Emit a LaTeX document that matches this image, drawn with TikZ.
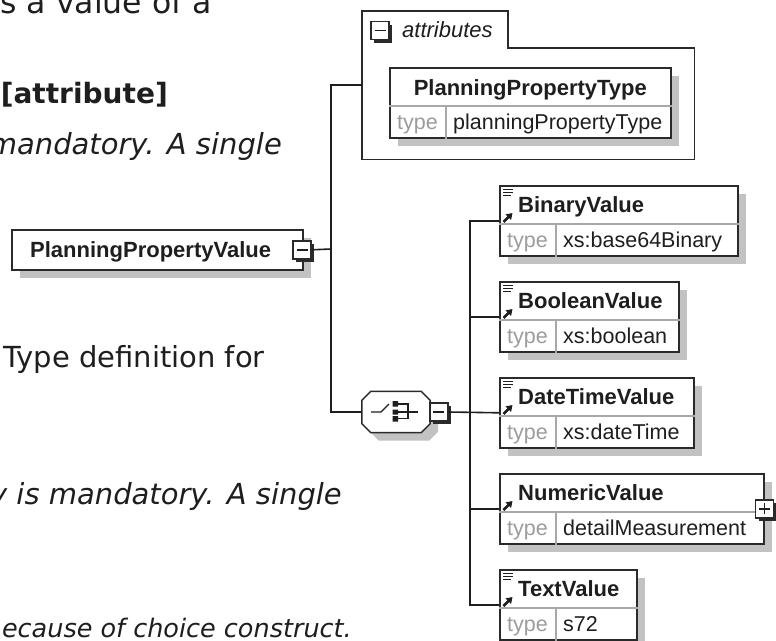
\documentclass[tikz,border=0pt]{standalone}
\usepackage{fontspec}
\setmainfont{Liberation Sans}
\newfontfamily\pagefont{DejaVu Sans}
\usetikzlibrary{positioning,arrows.meta,calc,shadows}
\definecolor{ink}{HTML}{1E1E1E}
\definecolor{frame}{HTML}{2A2A2A}
\definecolor{rule}{HTML}{A8A8A8}
\definecolor{shadowgray}{HTML}{C2C2C2}
\definecolor{muted}{HTML}{9C9C9C}
\tikzset{
  conn/.style={draw=ink, line width=1.6pt},
  frameline/.style={draw=frame, line width=1.5pt},
  rulel/.style={draw=rule, line width=1.3pt},
  boxshadow/.style={drop shadow={shadow xshift=8pt, shadow yshift=-8pt, fill=shadowgray, opacity=1}},
  elem/.style={draw=frame, line width=1.6pt, fill=white, anchor=north west,
    minimum height=70pt, inner sep=0pt, boxshadow},
  namefont/.style={font=\bfseries\fontsize{22}{22}\selectfont, text=ink, anchor=base west, inner sep=0pt},
  grplbl/.style={font=\itshape\fontsize{22}{22}\selectfont, text=ink, anchor=base west, inner sep=0pt},
  typelbl/.style={font=\fontsize{21.5}{21.5}\selectfont, text=muted, anchor=base west, inner sep=0pt},
  typeval/.style={font=\fontsize{21.5}{21.5}\selectfont, text=ink, anchor=base west, inner sep=0pt},
  pagetxt/.style={text=ink, anchor=base east, inner sep=0pt},
  btn/.style={draw=frame, fill=white, line width=1.5pt, minimum size=18pt, inner sep=0pt,
    drop shadow={shadow xshift=3pt, shadow yshift=-3pt, fill=frame, opacity=1}},
  minusbtn/.style={btn, path picture={\draw[line width=1.5pt, ink]
    ([xshift=3.5pt]path picture bounding box.west) -- ([xshift=-3.5pt]path picture bounding box.east);}},
  plusbtn/.style={btn, path picture={\draw[line width=1.5pt, ink]
    ([xshift=3.5pt]path picture bounding box.west) -- ([xshift=-3.5pt]path picture bounding box.east)
    ([yshift=3.5pt]path picture bounding box.south) -- ([yshift=-3.5pt]path picture bounding box.north);}},
  choicebox/.style={draw=frame, line width=1.5pt, fill=white, boxshadow},
  docline/.style={draw=ink, line width=1.3pt},
  refarrow/.style={draw=ink, line width=2.5pt, -{Triangle[length=6pt, width=7.5pt]}},
}
% rows and marks of an element box
\newcommand{\typerow}[3]{%
  \draw[rulel] ($(#1.north west)+(0,39)$) -- ($(#1.north east)+(0,39)$);
  \draw[rulel] ($(#1.north west)+(#2,39)$) -- ($(#1.south west)+(#2,0)$);
  \node[typelbl] (#1-k) at ($(#1.north west)+(8,62)$) {type};
  \node[typeval] (#1-v) at ($(#1.north west)+(#2+7,62)$) {#3};}
\newcommand{\docmark}[1]{%
  \draw[docline] ($(#1.north west)+(4,4.5)$) -- ++(10,0)
    ($(#1.north west)+(4,7.5)$) -- ++(10,0)
    ($(#1.north west)+(4,10.5)$) -- ++(8,0);}
\newcommand{\refmark}[1]{%
  \draw[refarrow] ($(#1.north west)+(4.5,37)$) -- ++(9,-9);}

\begin{document}
\begin{tikzpicture}[x=1pt, y=-1pt]
  \useasboundingbox (0,0) rectangle (776,640);

  % page text, cut by the crop
  \node[pagetxt, font=\pagefont\fontsize{31.5}{31.5}\selectfont] (txta) at (212,13) {s a value of a};
  \node[pagetxt, font=\pagefont\bfseries\fontsize{28}{28}\selectfont] (txtb) at (168,103) {[attribute]};
  \node[pagetxt, font=\pagefont\itshape\fontsize{29}{29}\selectfont] (txtc) at (282,154) {mandatory. A single};
  \node[pagetxt, font=\pagefont\fontsize{29}{29}\selectfont] (txtd) at (265,367) {Type definition for};
  \node[pagetxt, font=\pagefont\itshape\fontsize{29}{29}\selectfont] (txte) at (342,504) {y is mandatory. A single};
  \node[pagetxt, font=\pagefont\itshape\fontsize{25.5}{25.5}\selectfont] (txtf) at (352,637) {ecause of choice construct.};

  % attributes group
  \node[minimum width=332pt, minimum height=148pt, inner sep=0pt, anchor=north west] (attrgrp) at (362,11) {};
  \draw[frameline] (attrgrp.south west) -- (attrgrp.north west) -- ++(146,0) -- ++(0,37)
    -| (attrgrp.south east) -- cycle;
  \node[minusbtn] (attrbtn) at (380,30.5) {};
  \node[grplbl] (attrlbl) at (402,37) {attributes};
  \node[elem, minimum width=281pt] (ptype) at (389,67) {};
  \node[namefont, anchor=base] (ptype-t) at ($(ptype.north)+(0,28)$) {PlanningPropertyType};
  \typerow{ptype}{57}{planningPropertyType}

  % main element
  \node[elem, minimum width=291pt, minimum height=40pt] (ppv) at (11,229) {};
  \node[namefont] (ppv-t) at (30,257) {PlanningPropertyValue};
  \node[minusbtn] (ppvbtn) at ([xshift=-1.5pt]ppv.east) {};

  % choice
  \node[minimum width=68pt, minimum height=41pt, inner sep=0pt] (choice) at (396,412) {};
  \draw[choicebox] ($(choice.north west)+(9,0)$) -- ($(choice.north east)+(-9,0)$)
    -- ($(choice.north east)+(0,9)$) -- ($(choice.south east)+(0,-9)$)
    -- ($(choice.south east)+(-9,0)$) -- ($(choice.south west)+(9,0)$)
    -- ($(choice.south west)+(0,-9)$) -- ($(choice.north west)+(0,9)$) -- cycle;
  \begin{scope}[shift={(choice.center)}]
    \draw[line width=1.3pt, ink] (-25,0) -- (-15,0) -- (-7,-8);
    \fill[ink] (-3.5,-11) rectangle (2,-5.5) (-3.5,-2.5) rectangle (2,2.5) (-3.5,4) rectangle (2,9.5);
    \draw[line width=1.3pt, ink] (2,-8) -- (12,-8) -- (12,6.5) -- (2,6.5) (2,0) -- (22,0);
  \end{scope}
  \node[minusbtn, anchor=west] (chbtn) at ([xshift=-1pt]choice.east) {};

  % child elements
  \node[elem, minimum width=238pt] (binval) at (499,185) {};
  \node[namefont] (binval-t) at ($(binval.north west)+(19,27)$) {BinaryValue};
  \typerow{binval}{57}{xs:base64Binary}
  \docmark{binval} \refmark{binval}

  \node[elem, minimum width=179pt] (boolval) at (499,281) {};
  \node[namefont] (boolval-t) at ($(boolval.north west)+(19,27)$) {BooleanValue};
  \typerow{boolval}{57}{xs:boolean}
  \docmark{boolval} \refmark{boolval}

  \node[elem, minimum width=194pt] (dtval) at (499,377) {};
  \node[namefont] (dtval-t) at ($(dtval.north west)+(19,27)$) {DateTimeValue};
  \typerow{dtval}{57}{xs:dateTime}
  \docmark{dtval} \refmark{dtval}

  \node[elem, minimum width=264pt] (numval) at (499,473) {};
  \node[namefont] (numval-t) at ($(numval.north west)+(19,27)$) {NumericValue};
  \typerow{numval}{57}{detailMeasurement}
  \refmark{numval}
  \node[plusbtn] (numbtn) at (numval.east) {};

  \node[elem, minimum width=137pt] (txtval) at (499,569) {};
  \node[namefont] (txtval-t) at ($(txtval.north west)+(19,27)$) {TextValue};
  \typerow{txtval}{57}{s72}
  \docmark{txtval} \refmark{txtval}

  % connectors
  \coordinate (trunk) at (331,249);
  \coordinate (fork) at (470,412);
  \draw[conn] (ppvbtn.east) -- (trunk);
  \draw[conn] (attrgrp.west) -| (trunk) |- (choice.west);
  \draw[conn] (chbtn.east) -- (dtval.west);
  \draw[conn] (binval.west) -| (fork) |- (txtval.west);
  \draw[conn] (fork |- boolval.west) -- (boolval.west);
  \draw[conn] (fork |- numval.west) -- (numval.west);
\end{tikzpicture}
\end{document}
